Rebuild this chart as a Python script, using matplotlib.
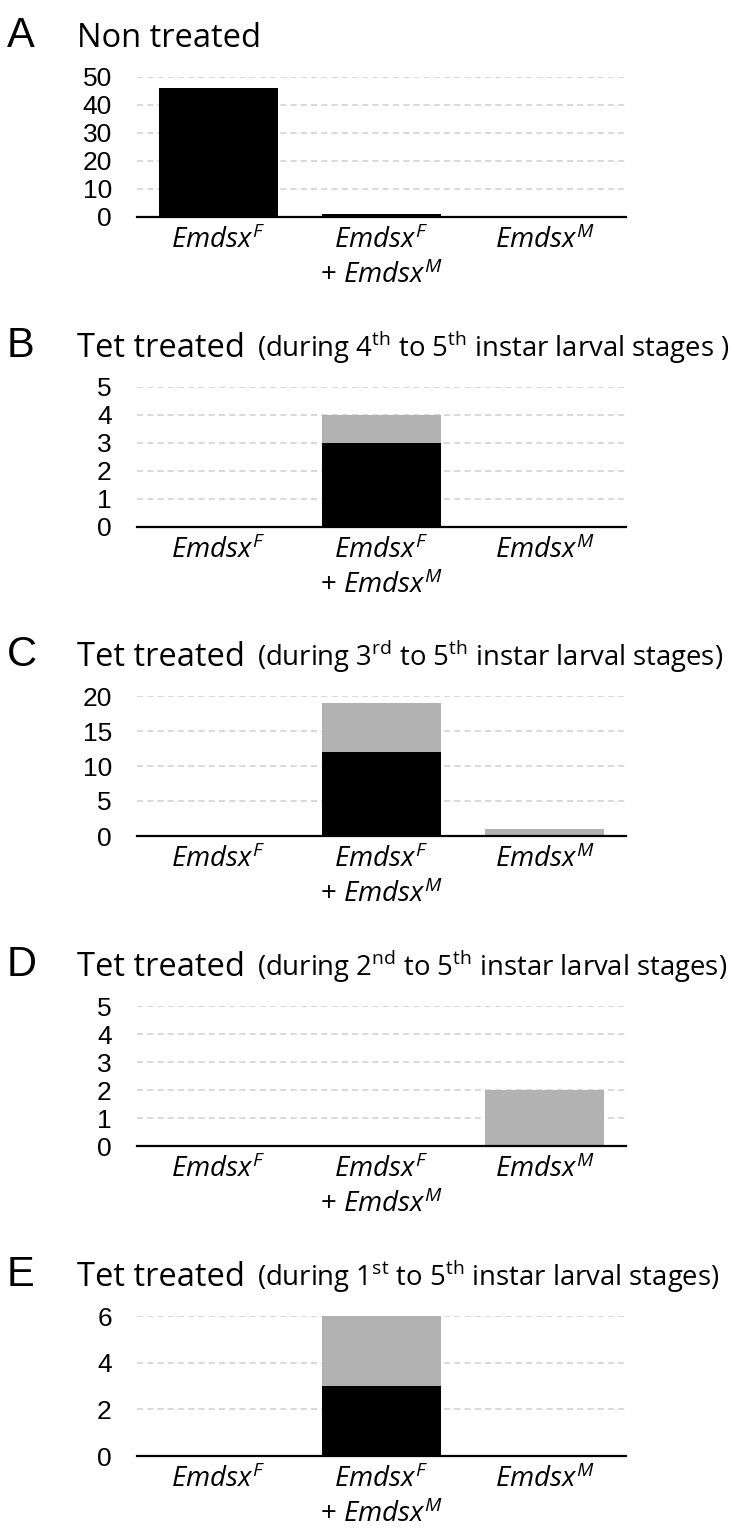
import matplotlib
matplotlib.use('Agg')
import matplotlib.pyplot as plt
import numpy as np

plt.rcParams['mathtext.fontset'] = 'custom'
plt.rcParams['mathtext.it'] = 'Open Sans:italic'
plt.rcParams['mathtext.rm'] = 'Open Sans'
plt.rcParams['mathtext.bf'] = 'Open Sans:bold'

categories = ['$Emdsx^F$', '$Emdsx^F$\n+ $Emdsx^M$', '$Emdsx^M$']

letters = ['A', 'B', 'C', 'D', 'E']
titles = ['Non treated', 'Tet treated', 'Tet treated', 'Tet treated', 'Tet treated']
subtitles = ['',
             '(during 4$^{\\mathrm{th}}$ to 5$^{\\mathrm{th}}$ instar larval stages )',
             '(during 3$^{\\mathrm{rd}}$ to 5$^{\\mathrm{th}}$ instar larval stages)',
             '(during 2$^{\\mathrm{nd}}$ to 5$^{\\mathrm{th}}$ instar larval stages)',
             '(during 1$^{\\mathrm{st}}$ to 5$^{\\mathrm{th}}$ instar larval stages)']

# black = lower segment, gray = upper segment
black_a = [46, 1, 0]
gray_a = [0, 0, 0]
black_b = [0, 3, 0]
gray_b = [0, 1, 0]
black_c = [0, 12, 0]
gray_c = [0, 7, 1]
black_d = [0, 0, 0]
gray_d = [0, 0, 2]
black_e = [0, 3, 0]
gray_e = [0, 3, 0]

blacks = [black_a, black_b, black_c, black_d, black_e]
grays = [gray_a, gray_b, gray_c, gray_d, gray_e]
ymax = [50, 5, 20, 5, 6]
ystep = [10, 1, 5, 1, 2]

W, H = 735, 1530
fig = plt.figure(figsize=(W / 100, H / 100), dpi=100)

# zero-line pixel rows for each panel
zero_px = [216.7, 526.7, 836, 1146, 1456]
ax_h = 140
ax_left, ax_w = 136.8, 489

x = np.arange(len(categories))
for i in range(5):
    ax = fig.add_axes([ax_left / W, (H - zero_px[i]) / H, ax_w / W, ax_h / H])
    ax.bar(x, blacks[i], width=0.73, color='black', zorder=2)
    ax.bar(x, grays[i], width=0.73, bottom=blacks[i], color='#b2b2b2', zorder=2)
    ax.set_xlim(-0.5, 2.5)
    ax.set_ylim(0, ymax[i])
    ax.set_yticks(np.arange(0, ymax[i] + 0.1, ystep[i]))
    ax.yaxis.grid(True, color='#d0d0d0', linestyle=(0, (4, 2.7)), linewidth=1.1)
    ax.set_axisbelow(True)
    for s in ['top', 'right', 'left']:
        ax.spines[s].set_visible(False)
    ax.spines['bottom'].set_linewidth(1.6)
    ax.spines['bottom'].set_zorder(3)
    ax.tick_params(axis='both', length=0)
    ax.tick_params(axis='y', pad=18, labelsize=19)
    for t in ax.get_yticklabels():
        t.set_fontfamily('Liberation Sans')
    ax.set_xticks(x)
    ax.set_xticklabels(categories, fontsize=20, fontfamily='Open Sans', linespacing=1.3)
    ax.tick_params(axis='x', pad=7)

    base = 1 - (zero_px[i] - 170) / H
    fig.text(7 / W, base, letters[i], fontsize=30, fontfamily='Liberation Sans', va='baseline')
    fig.text(77 / W, base, titles[i], fontsize=23.5, fontfamily='Open Sans', va='baseline')
    if subtitles[i]:
        fig.text(257 / W, base, subtitles[i], fontsize=19.8, fontfamily='Open Sans', va='baseline')

fig.savefig('out.png', dpi=100)
